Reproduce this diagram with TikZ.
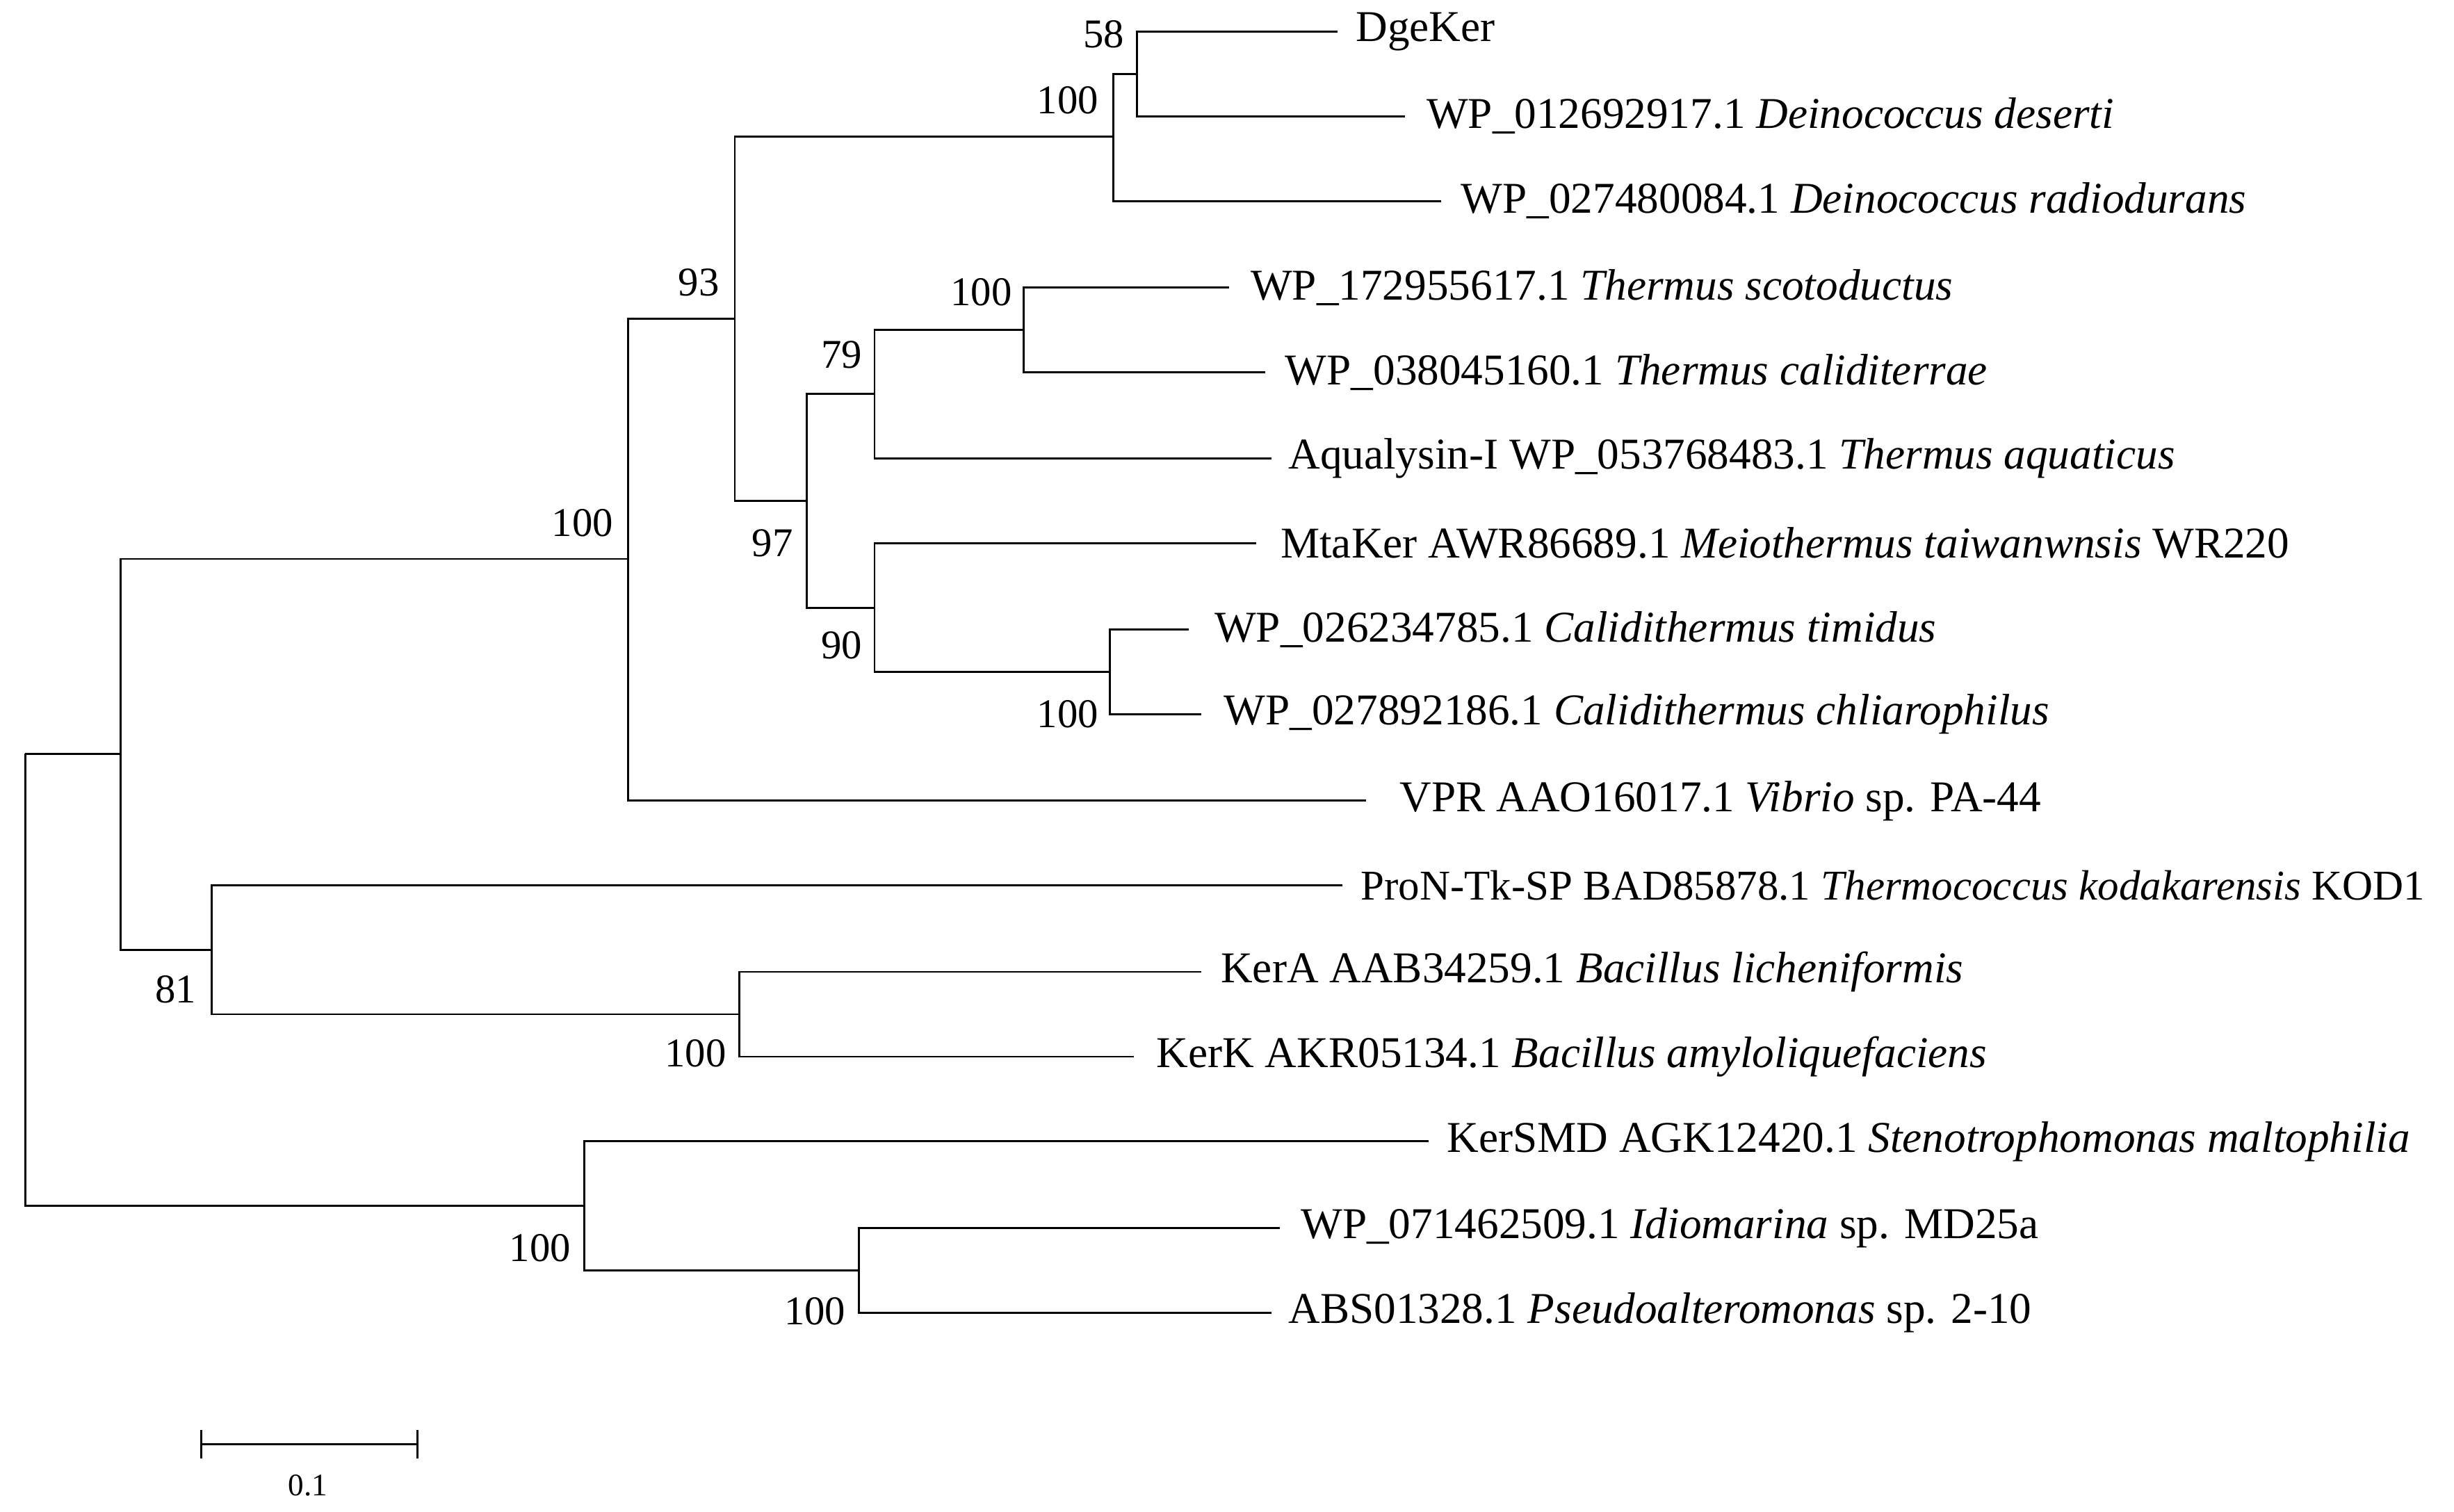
\documentclass[tikz,border=0pt]{standalone}
\usepackage{fontspec}
\setmainfont{Liberation Serif}
\begin{document}
\begin{tikzpicture}[x=1pt,y=-1pt,line width=1.3pt,
  lab/.style={anchor=west,inner sep=0pt,font=\fontsize{28}{28}\selectfont},
  bs/.style={inner sep=0pt,font=\fontsize{26}{26}\selectfont}]
\useasboundingbox (0,0) rectangle (1563,963);
% internal nodes
\coordinate (r) at (16,480);
\coordinate (a) at (77,480);
\coordinate (b) at (400,356);
\coordinate (c) at (468,203);
\coordinate (d) at (709,87);
\coordinate (e) at (724,47);
\coordinate (f) at (514,319);
\coordinate (g) at (557,251);
\coordinate (h) at (652,210);
\coordinate (i) at (557,387);
\coordinate (j) at (707,428);
\coordinate (k) at (135,605);
\coordinate (l) at (471,646);
\coordinate (m) at (372,768);
\coordinate (n) at (547,809);
% tips
\coordinate (t1) at (852,20);
\coordinate (t2) at (895,74);
\coordinate (t3) at (918,128);
\coordinate (t4) at (783,183);
\coordinate (t5) at (806,237);
\coordinate (t6) at (810,292);
\coordinate (t7) at (800,346);
\coordinate (t8) at (757,401);
\coordinate (t9) at (765,455);
\coordinate (t10) at (870,510);
\coordinate (t11) at (855,564);
\coordinate (t12) at (765,619);
\coordinate (t13) at (722,673);
\coordinate (t14) at (910,727);
\coordinate (t15) at (815,782);
\coordinate (t16) at (810,836);
% branches
\draw (r) |- (a); \draw (r) |- (m);
\draw (a) |- (b); \draw (a) |- (k);
\draw (b) |- (c); \draw (b) |- (t10);
\draw (c) |- (d); \draw (c) |- (f);
\draw (d) |- (e); \draw (d) |- (t3);
\draw (e) |- (t1); \draw (e) |- (t2);
\draw (f) |- (g); \draw (f) |- (i);
\draw (g) |- (h); \draw (g) |- (t6);
\draw (h) |- (t4); \draw (h) |- (t5);
\draw (i) |- (t7); \draw (i) |- (j);
\draw (j) |- (t8); \draw (j) |- (t9);
\draw (k) |- (t11); \draw (k) |- (l);
\draw (l) |- (t12); \draw (l) |- (t13);
\draw (m) |- (t14); \draw (m) |- (n);
\draw (n) |- (t15); \draw (n) |- (t16);
% labels
\node[lab] (L1) at (863,20) {DgeKer};
\node[lab] (L2) at (908,74) {WP\_012692917.1 \textit{Deinococcus deserti}};
\node[lab] (L3) at (930,128) {WP\_027480084.1 \textit{Deinococcus radiodurans}};
\node[lab] (L4) at (796,183) {WP\_172955617.1 \textit{Thermus scotoductus}};
\node[lab] (L5) at (818,237) {WP\_038045160.1 \textit{Thermus caliditerrae}};
\node[lab] (L6) at (820,292) {Aqualysin-I WP\_053768483.1 \textit{Thermus aquaticus}};
\node[lab] (L7) at (815,346) {MtaKer AWR86689.1 \textit{Meiothermus taiwanwnsis} WR220};
\node[lab] (L8) at (773,401) {WP\_026234785.1 \textit{Calidithermus timidus}};
\node[lab] (L9) at (779,455) {WP\_027892186.1 \textit{Calidithermus chliarophilus}};
\node[lab] (L10) at (891,510) {VPR AAO16017.1 \textit{Vibrio} sp. PA-44};
\node[lab,font=\fontsize{27}{27}\selectfont] (L11) at (866,564) {ProN-Tk-SP BAD85878.1 \textit{Thermococcus kodakarensis} KOD1};
\node[lab] (L12) at (777,619) {KerA AAB34259.1 \textit{Bacillus licheniformis}};
\node[lab] (L13) at (736,673) {KerK AKR05134.1 \textit{Bacillus amyloliquefaciens}};
\node[lab] (L14) at (921,727) {KerSMD AGK12420.1 \textit{Stenotrophomonas maltophilia}};
\node[lab] (L15) at (828,782) {WP\_071462509.1 \textit{Idiomarina} sp. MD25a};
\node[lab] (L16) at (820,836) {ABS01328.1 \textit{Pseudoalteromonas} sp. 2-10};
% bootstrap
\node[bs] (B1) at (703,22) {58};
\node[bs] (B2) at (680,64) {100};
\node[bs] (B3) at (625,186) {100};
\node[bs] (B4) at (536,226) {79};
\node[bs] (B5) at (680,455) {100};
\node[bs] (B6) at (536,411) {90};
\node[bs] (B7) at (492,346) {97};
\node[bs] (B8) at (445,180) {93};
\node[bs] (B9) at (371,333) {100};
\node[bs] (B10) at (112,630) {81};
\node[bs] (B11) at (443,671) {100};
\node[bs] (B12) at (344,795) {100};
\node[bs] (B13) at (519,835) {100};
% scale bar
\coordinate (s1) at (128,920);
\coordinate (s2) at (266,920);
\draw (s1) -- (s2);
\draw ([yshift=-9]s1) -- ([yshift=9]s1);
\draw ([yshift=-9]s2) -- ([yshift=9]s2);
\node[bs,font=\fontsize{20}{20}\selectfont] (S) at (196,946) {0.1};
\end{tikzpicture}
\end{document}
